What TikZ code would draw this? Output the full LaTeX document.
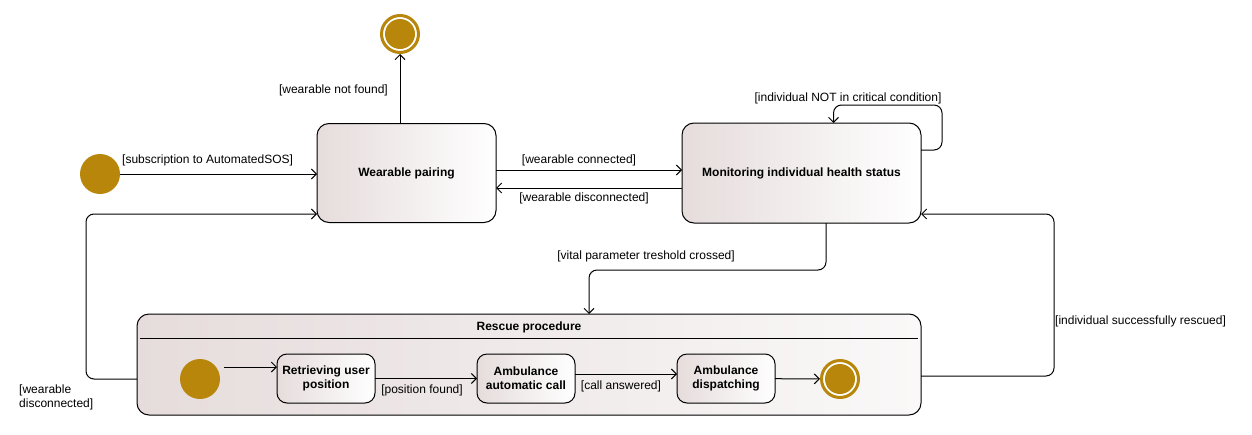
\documentclass[tikz,border=0pt]{standalone}
\usepackage{fontspec}
\setmainfont{Liberation Sans}
\usepackage{tikz}
\usetikzlibrary{arrows.meta, positioning}

\definecolor{sosgold}{RGB}{184,134,11}
\definecolor{statemauve}{RGB}{230,220,220}

\begin{document}
\begin{tikzpicture}[x=1pt, y=-1pt,
  every node/.style={font=\fontsize{12}{14}\selectfont},
  state/.style={draw, rounded corners=12pt, line width=1pt, outer sep=0pt, left color=statemauve, right color=white, font=\fontsize{12}{14}\selectfont\bfseries, align=center, inner sep=0pt},
  substate/.style={state, rounded corners=10pt, minimum width=98pt, minimum height=49pt},
  initial/.style={circle, fill=sosgold, minimum size=40pt, inner sep=0pt},
  final/.style={circle, draw=sosgold, line width=3pt, fill=white, minimum size=37pt, inner sep=0pt,
    path picture={\fill[sosgold] (path picture bounding box.center) circle (15pt);}},
  guard/.style={inner sep=0pt, text=black},
  trans/.style={-{Straight Barb[length=5pt,width=10pt]}, line width=1pt},
]
  \useasboundingbox (0,0) rectangle (1252,434);

  % States
  \node[initial] (start) at (100,174) {};
  \node[final] (stop) at (400,34) {};
  \node[state, minimum width=179pt, minimum height=99pt] (pairing) at (406.5,173) {Wearable pairing};
  \node[state, minimum width=239pt, minimum height=100pt] (monitor) at (801.5,173) {Monitoring individual health status};

  % Rescue procedure (composite state)
  \node[state, minimum width=784pt, minimum height=101pt, right color=statemauve!20] (rescue) at (529,364.5) {};
  \node[font=\fontsize{12}{14}\selectfont\bfseries] (rescuetitle) at (529,327) {Rescue procedure};
  \draw[line width=1pt] ([xshift=3pt,yshift=-24pt]rescue.north west) -- ([xshift=-3pt,yshift=-24pt]rescue.north east);

  \node[initial] (rstart) at (200,379) {};
  \node[substate] (retrieve) at (326,378.5) {Retrieving user\\position};
  \node[substate] (call) at (526,378.5) {Ambulance\\automatic call};
  \node[substate] (dispatch) at (726,378.5) {Ambulance\\dispatching};
  \node[final] (rstop) at (840,379) {};

  % Transitions
  \draw[trans] (start) -- (start -| pairing.west);
  \node[guard, anchor=south west] (subscribe) at (122,166) {[subscription to AutomatedSOS]};

  \draw[trans] (pairing.north -| stop) -- (stop);
  \node[guard, anchor=east] (notfound) at (388,90) {[wearable not found]};

  \draw[trans] ([yshift=3pt]pairing.east) -- ([yshift=3pt]monitor.west);
  \node[guard] (connected) at (579,160) {[wearable connected]};
  \draw[trans] ([yshift=-15pt]monitor.west) -- ([yshift=-15pt]pairing.east);
  \node[guard] (disconnected) at (584,198) {[wearable disconnected]};

  \draw[trans, rounded corners=8pt] ([yshift=23pt]monitor.east) -- ++(21,0) |- ([xshift=32pt,yshift=18pt]monitor.north) -- ([xshift=32pt]monitor.north);
  \node[guard] (notcritical) at (848,98) {[individual NOT in critical condition]};

  \draw[trans, rounded corners=8pt] ([xshift=24.5pt]monitor.south) -- ++(0,47) -| ([xshift=60pt]rescue.north);
  \node[guard] (threshold) at (646,256) {[vital parameter treshold crossed]};

  \draw[trans, rounded corners=8pt] ([yshift=-11.5pt]rescue.east) -- ++(133,0) |- ([yshift=-41pt]monitor.east);
  \node[guard, anchor=west] (rescued) at (1055,321) {[individual successfully rescued]};

  \draw[trans, rounded corners=8pt] ([yshift=-14.5pt]rescue.west) -- ++(-51,0) |- ([yshift=-41pt]pairing.west);
  \node[guard, anchor=north west, align=left] (rdisconnected) at (19,385) {[wearable\\disconnected]};

  % Inside rescue procedure
  \draw[trans] ([xshift=4pt,yshift=12pt]rstart.east) -- ([yshift=11.5pt]retrieve.west);
  \draw[trans] (retrieve) -- (call);
  \node[guard] (found) at (422,390) {[position found]};
  \draw[trans] ([yshift=4.5pt]call.east) -- ([yshift=4.5pt]dispatch.west);
  \node[guard] (answered) at (621,386) {[call answered]};
  \draw[trans] (dispatch) -- (rstop);
\end{tikzpicture}
\end{document}
